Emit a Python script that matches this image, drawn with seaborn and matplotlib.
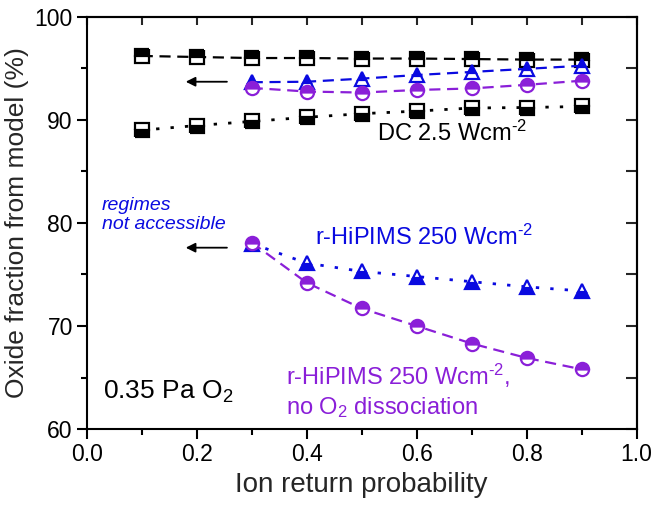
import matplotlib
matplotlib.use("Agg")
import matplotlib.pyplot as plt
import seaborn as sns
import numpy as np
from matplotlib.ticker import MultipleLocator, FormatStrFormatter, NullFormatter

sns.set_theme(style="ticks")
plt.rcParams['font.family'] = ['Liberation Sans', 'DejaVu Sans']
plt.rcParams['mathtext.fontset'] = 'custom'
plt.rcParams['mathtext.rm'] = 'Liberation Sans'
plt.rcParams['mathtext.it'] = 'Liberation Sans:italic'

x_dc = [0.1, 0.2, 0.3, 0.4, 0.5, 0.6, 0.7, 0.8, 0.9]
dc_dashed = [96.2, 96.1, 96.0, 96.0, 95.95, 95.95, 95.9, 95.85, 95.85]
dc_dotted = [89.0, 89.45, 89.85, 90.25, 90.6, 90.85, 91.15, 91.2, 91.3]

x_hi = [0.3, 0.4, 0.5, 0.6, 0.7, 0.8, 0.9]
hi_tri_dashed = [93.65, 93.7, 94.0, 94.35, 94.65, 94.95, 95.25]
hi_circ_dashed_top = [93.1, 92.75, 92.65, 92.9, 93.05, 93.4, 93.8]
hi_tri_dotted = [78.0, 76.1, 75.3, 74.8, 74.3, 73.8, 73.4]
hi_circ_dashed_low = [78.1, 74.2, 71.7, 70.0, 68.3, 66.9, 65.8]

BLUE = '#0a0ae0'
PURPLE = '#8a1fd8'

fig, ax = plt.subplots(figsize=(6.52, 5.09), dpi=100)
fig.subplots_adjust(left=0.133, right=0.9765, top=0.967, bottom=0.157)

common = dict(markersize=9.5, markeredgewidth=1.6, markerfacecoloralt='white')
dash = (0, (5, 3))
dot = (0, (1.2, 4))

sns.lineplot(x=x_dc, y=dc_dashed, ax=ax, color='black', linestyle=dash, linewidth=1.6,
             marker='s', fillstyle='top', markeredgecolor='black', **common)
sns.lineplot(x=x_dc, y=dc_dotted, ax=ax, color='black', linestyle=dot, linewidth=2.0,
             marker='s', fillstyle='bottom', markeredgecolor='black', **common)
sns.lineplot(x=x_hi, y=hi_tri_dashed, ax=ax, color=BLUE, linestyle=dash, linewidth=1.6,
             marker='^', fillstyle='top', markeredgecolor=BLUE, **common)
sns.lineplot(x=x_hi, y=hi_circ_dashed_top, ax=ax, color=PURPLE, linestyle=dash, linewidth=1.6,
             marker='o', fillstyle='top', markeredgecolor=PURPLE, **common)
sns.lineplot(x=x_hi, y=hi_tri_dotted, ax=ax, color=BLUE, linestyle=dot, linewidth=2.0,
             marker='^', fillstyle='bottom', markeredgecolor=BLUE, **common)
sns.lineplot(x=x_hi, y=hi_circ_dashed_low, ax=ax, color=PURPLE, linestyle=dash, linewidth=1.6,
             marker='o', fillstyle='top', markeredgecolor=PURPLE, **common)

ax.set_xlim(0.0, 1.0)
ax.set_ylim(60, 100)
ax.xaxis.set_major_locator(MultipleLocator(0.2))
ax.xaxis.set_minor_locator(MultipleLocator(0.1))
ax.xaxis.set_major_formatter(FormatStrFormatter('%.1f'))
ax.yaxis.set_major_locator(MultipleLocator(10))
ax.yaxis.set_minor_locator(MultipleLocator(5))
ax.tick_params(which='both', direction='out', width=1.5, labelsize=16.5, colors='black', pad=3)
ax.tick_params(which='major', length=7)
ax.tick_params(which='minor', length=4)
for s in ax.spines.values():
    s.set_linewidth(1.5)
    s.set_color('black')

secx = ax.secondary_xaxis('top')
secx.xaxis.set_major_locator(MultipleLocator(0.1))
secx.xaxis.set_major_formatter(NullFormatter())
secx.tick_params(direction='in', length=6, width=1.5)
secx.spines['top'].set_linewidth(1.5)
secy = ax.secondary_yaxis('right')
secy.yaxis.set_major_locator(MultipleLocator(5))
secy.yaxis.set_major_formatter(NullFormatter())
secy.tick_params(direction='in', length=8, width=1.5)
secy.spines['right'].set_linewidth(1.5)

ax.set_xlabel("Ion return probability", fontsize=20, labelpad=4)
ax.set_ylabel("Oxide fraction from model (%)", fontsize=19, labelpad=4)

ax.annotate("", xy=(0.175, 93.7), xytext=(0.26, 93.7),
            arrowprops=dict(arrowstyle='-|>', color='black', lw=1.3, mutation_scale=14))
ax.annotate("", xy=(0.175, 77.6), xytext=(0.26, 77.6),
            arrowprops=dict(arrowstyle='-|>', color='black', lw=1.3, mutation_scale=14))

ax.text(0.027, 80.8, "regimes\nnot accessible", color=BLUE, style='italic', fontsize=14,
        va='center', ha='left', linespacing=1.15)
ax.text(0.527, 88.7, r"DC 2.5 Wcm$^{\text{-2}}$", color='black', fontsize=17, va='center', ha='left')
ax.text(0.415, 78.6, r"r-HiPIMS 250 Wcm$^{\text{-2}}$", color=BLUE, fontsize=17, va='center', ha='left')
ax.text(0.363, 63.7, "r-HiPIMS 250 Wcm$^{\\text{-2}}$,\nno O$_2$ dissociation", color=PURPLE, fontsize=17,
        va='center', ha='left', linespacing=1.3)
ax.text(0.03, 63.6, "0.35 Pa O$_2$", color='black', fontsize=19, va='center', ha='left')

fig.savefig("out.png", dpi=100)
